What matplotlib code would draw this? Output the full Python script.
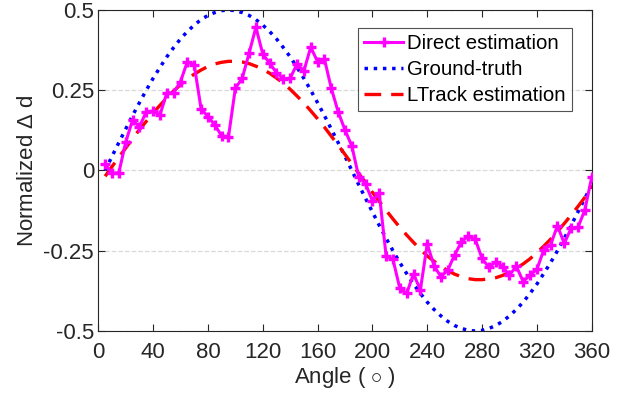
import matplotlib
matplotlib.use("Agg")
import matplotlib.pyplot as plt
import numpy as np

plt.rcParams['font.family'] = ['Liberation Sans', 'DejaVu Sans']
plt.rcParams['mathtext.fontset'] = 'custom'
plt.rcParams['mathtext.rm'] = 'Liberation Sans'

# angles (degrees), one sample every 5 degrees
angles = list(range(5, 361, 5))

# direct estimation (magenta)
direct = [0.02, -0.009, -0.007, 0.088, 0.157, 0.136, 0.183, 0.185, 0.173, 0.242,
          0.242, 0.277, 0.339, 0.329, 0.192, 0.168, 0.142, 0.108, 0.105, 0.256,
          0.287, 0.365, 0.446, 0.363, 0.334, 0.305, 0.285, 0.287, 0.332, 0.31,
          0.384, 0.339, 0.347, 0.256, 0.183, 0.126, 0.076, -0.019, -0.042, -0.094,
          -0.071, -0.266, -0.277, -0.367, -0.383, -0.322, -0.372, -0.229, -0.297, -0.331,
          -0.31, -0.263, -0.222, -0.204, -0.214, -0.274, -0.302, -0.284, -0.3, -0.326,
          -0.298, -0.346, -0.326, -0.308, -0.248, -0.232, -0.172, -0.227, -0.18, -0.177,
          -0.123, -0.021]

# ground truth (blue dotted)
ground = [0.0, 0.044, 0.087, 0.129, 0.171, 0.211, 0.25, 0.287, 0.321, 0.354,
          0.383, 0.41, 0.433, 0.453, 0.47, 0.483, 0.492, 0.498, 0.5, 0.498,
          0.492, 0.483, 0.47, 0.453, 0.433, 0.41, 0.383, 0.354, 0.321, 0.287,
          0.25, 0.211, 0.171, 0.129, 0.087, 0.044, 0.0, -0.044, -0.087, -0.129,
          -0.171, -0.211, -0.25, -0.287, -0.321, -0.354, -0.383, -0.41, -0.433, -0.453,
          -0.47, -0.483, -0.492, -0.498, -0.5, -0.498, -0.492, -0.483, -0.47, -0.453,
          -0.433, -0.41, -0.383, -0.354, -0.321, -0.287, -0.25, -0.211, -0.171, -0.129,
          -0.087, -0.044]

# LTrack estimation (red dashed)
ltrack = [-0.018, 0.012, 0.041, 0.07, 0.099, 0.127, 0.153, 0.179, 0.203, 0.226,
          0.248, 0.267, 0.285, 0.3, 0.313, 0.324, 0.332, 0.337, 0.34, 0.34,
          0.338, 0.333, 0.325, 0.315, 0.303, 0.288, 0.272, 0.253, 0.232, 0.21,
          0.186, 0.161, 0.135, 0.107, 0.079, 0.05, 0.021, -0.009, -0.038, -0.068,
          -0.096, -0.124, -0.151, -0.177, -0.201, -0.224, -0.246, -0.266, -0.283, -0.299,
          -0.312, -0.323, -0.331, -0.337, -0.34, -0.34, -0.338, -0.334, -0.327, -0.317,
          -0.305, -0.291, -0.275, -0.256, -0.236, -0.214, -0.19, -0.165, -0.139, -0.112,
          -0.084, -0.047]

xticks = [0, 40, 80, 120, 160, 200, 240, 280, 320, 360]
yticks = [-0.5, -0.25, 0, 0.25, 0.5]
ytick_labels = ['-0.5', '-0.25', '0', '0.25', '0.5']

fig = plt.figure(figsize=(6.3, 3.99), dpi=100)
ax = fig.add_axes([0.1560, 0.1704, 0.7832, 0.8046])

ax.plot(angles, direct, color='#ff00ff', linewidth=2.2, marker='+', markersize=7.5,
        markeredgewidth=2.4, label='Direct estimation', zorder=3)
ax.plot(angles, ground, color='#0000ff', linestyle=':', linewidth=2.5,
        label='Ground-truth', zorder=2)
ax.plot(angles, ltrack, color='#ff0000', linestyle=(0, (5, 3)), linewidth=2.4,
        label='LTrack estimation', zorder=2)

ax.set_xlim(0, 360)
ax.set_ylim(-0.5, 0.5)
ax.set_xticks(xticks)
ax.set_yticks(yticks)
ax.set_yticklabels(ytick_labels)
ax.yaxis.grid(True, linestyle='--', color='#d9d9d9', linewidth=0.9)
ax.set_axisbelow(True)
ax.tick_params(direction='in', top=True, right=True, labelsize=16, length=5,
               width=0.8, colors='#262626')
ax.tick_params(axis='x', pad=8)
ax.tick_params(axis='y', pad=3)
for s in ax.spines.values():
    s.set_color('#262626')
    s.set_linewidth(0.8)

ax.set_xlabel(r'Angle ( $\circ$ )', fontsize=16, color='#262626', labelpad=1)
ax.set_ylabel(r'Normalized $\Delta$ d', fontsize=16, color='#262626', labelpad=4)

leg = ax.legend(loc='upper right', bbox_to_anchor=(0.96, 0.944), borderaxespad=0,
                fontsize=14.7, frameon=True, fancybox=False, edgecolor='#262626',
                handlelength=1.9, handletextpad=0.2, borderpad=0.3, labelspacing=0.35)
leg.get_frame().set_linewidth(0.8)

fig.savefig('out.png', dpi=100)
